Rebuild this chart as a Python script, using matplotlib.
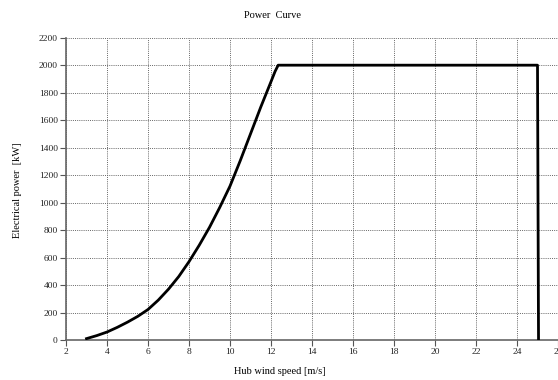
import numpy as np
import matplotlib
matplotlib.use("Agg")
import matplotlib.pyplot as plt

# power curve
wind_speed = [3, 3.5, 4, 4.5, 5, 5.5, 6, 6.5, 7, 7.5, 8, 8.5, 9, 9.5, 10,
              10.5, 11, 11.5, 12, 12.2, 12.35, 25.0, 25.05]
power_kw = [10, 32, 58, 92, 130, 172, 222, 290, 370, 462, 570, 690, 820, 965, 1120,
            1305, 1500, 1695, 1880, 1955, 2000, 2000, 0]

x_ticks = list(range(2, 27, 2))
y_ticks = list(range(0, 2201, 200))

plt.rcParams['font.family'] = ['Liberation Serif', 'DejaVu Serif']

fig = plt.figure(figsize=(5.58, 3.80), dpi=100)
ax = fig.add_axes([66 / 558, 1 - 340 / 380, 1 - 66 / 558, (340 - 37.7) / 380])

ax.plot(wind_speed, power_kw, color='black', lw=2.0, solid_joinstyle='round', zorder=3)

ax.set_xlim(2, 26)
ax.set_ylim(0, 2200)
ax.set_xticks(x_ticks)
ax.set_yticks(y_ticks)
ax.tick_params(labelsize=6.8, length=4, width=0.8, color='#555555', pad=2, labelcolor='#222222')
ax.grid(True, color='#666666', linestyle=(0, (1, 1.2)), lw=0.7)

for side in ['top', 'right']:
    ax.spines[side].set_visible(False)
for side in ['left', 'bottom']:
    ax.spines[side].set_color('#666666')
    ax.spines[side].set_linewidth(1.2)

fig.text(273 / 558, 1 - 15 / 380, 'Power  Curve', ha='center', va='center', fontsize=7.5)
fig.text(280 / 558, 1 - 371 / 380, 'Hub wind speed [m/s]', ha='center', va='center', fontsize=7.5)
fig.text(18 / 558, 1 - 190 / 380, 'Electrical power  [kW]', ha='center', va='center',
         rotation=90, fontsize=7.5)

fig.savefig('out.png', dpi=100)
